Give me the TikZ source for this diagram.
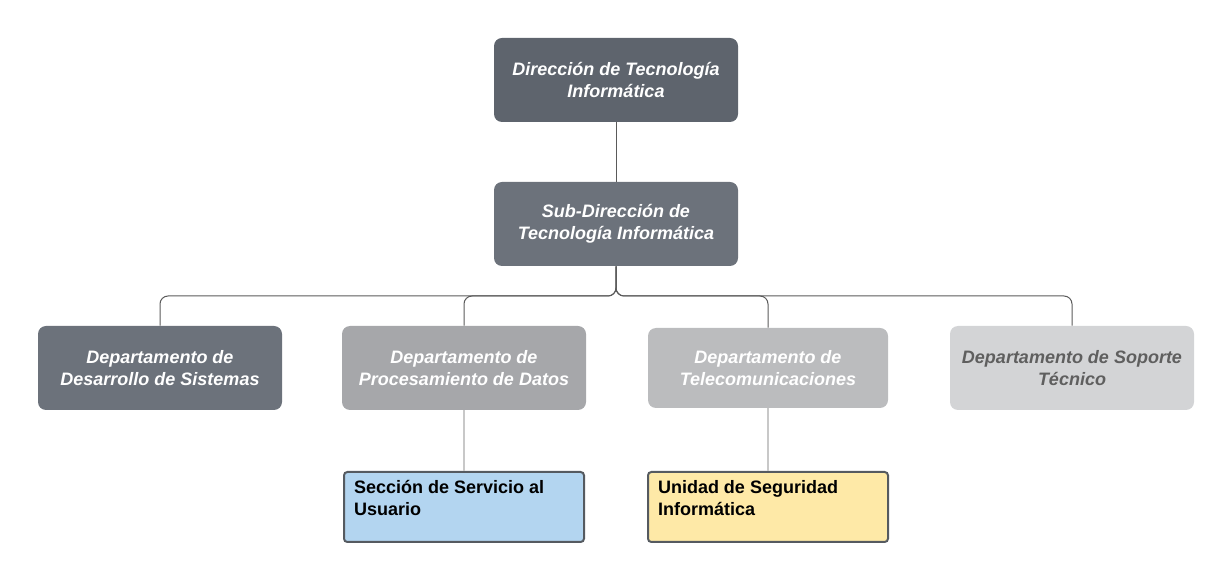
\documentclass[tikz,border=0pt]{standalone}
\usepackage{fontspec}
\setmainfont{Liberation Sans}
\definecolor{dirgray}{HTML}{5E646D}
\definecolor{subgray}{HTML}{6C727B}
\definecolor{midgray}{HTML}{A6A7AA}
\definecolor{litgray}{HTML}{BBBCBE}
\definecolor{palegray}{HTML}{D3D4D6}
\definecolor{softtext}{HTML}{5F5F5F}
\definecolor{secblue}{HTML}{B3D5F0}
\definecolor{secyellow}{HTML}{FEE9A7}
\definecolor{edgegray}{HTML}{555A60}
\definecolor{linkdark}{HTML}{5A5A5A}
\definecolor{linklight}{HTML}{C8C8C8}
\usetikzlibrary{positioning,calc}

\newcommand{\sectxt}[1]{\parbox[c][40pt][t]{165pt}{#1}}

\begin{document}
\begin{tikzpicture}[x=0.75pt,y=0.75pt,
  box/.style={rounded corners=6pt,minimum width=183pt,minimum height=63pt,align=center,
    text=white,font=\fontsize{13.5}{16.5}\selectfont\bfseries\itshape},
  sect/.style={draw=edgegray,line width=1.5pt,rounded corners=2.5pt,minimum width=180pt,
    minimum height=52.5pt,inner sep=6pt,font=\fontsize{13.5}{16.5}\selectfont\bfseries},
  link/.style={draw=linkdark,line width=0.75pt,rounded corners=6pt},
  sublink/.style={draw=linklight,line width=1.1pt}]
  \useasboundingbox (0,0) rectangle (1232,582);

  \node[box,fill=dirgray] (dir) at (616,502) {Dirección de Tecnología\\Informática};
  \node[box,fill=subgray] (sub) at (616,358) {Sub-Dirección de\\Tecnología Informática};

  \node[box,fill=subgray] (desa) at (160,214) {Departamento de\\Desarrollo de Sistemas};
  \node[box,fill=midgray] (proc) at (464,214) {Departamento de\\Procesamiento de Datos};
  \node[box,fill=litgray,minimum width=180pt,minimum height=60pt] (tele) at (768,214) {Departamento de\\Telecomunicaciones};
  \node[box,fill=palegray,text=softtext] (sopo) at (1072,214) {Departamento de Soporte\\Técnico};

  \node[sect,fill=secblue] (serv) at (464,75) {\sectxt{Sección de Servicio al\\Usuario}};
  \node[sect,fill=secyellow] (segu) at (768,75) {\sectxt{Unidad de Seguridad\\Informática}};

  % connectors
  \coordinate (bus) at (616,286);
  \draw[link] (dir.south) -- (sub.north);
  \foreach \d in {desa,proc,tele,sopo}
    \draw[link] (sub.south) -- (sub.south |- bus) -| (\d.north);
  \draw[sublink] (proc.south) -- (serv.north);
  \draw[sublink] (tele.south) -- (segu.north);
\end{tikzpicture}
\end{document}
